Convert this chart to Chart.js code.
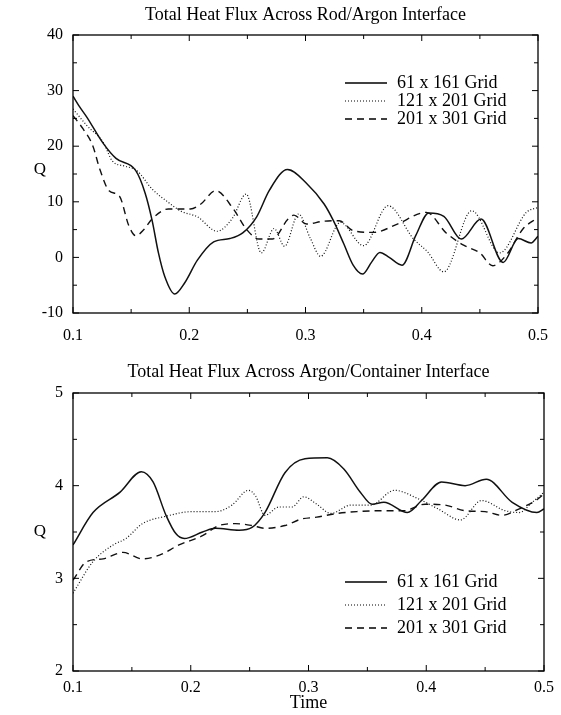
<!DOCTYPE html>
<html>
<head>
<meta charset="utf-8">
<script src="https://cdn.jsdelivr.net/npm/chart.js@4.4.1/dist/chart.umd.min.js"></script>
<style>
  html, body { margin: 0; padding: 0; background: #fff; }
  #wrap { position: relative; width: 561px; height: 715px; }
  canvas { position: absolute; left: 0; }
  #rod { top: 0; }
  #box { top: 345px; }
</style>
</head>
<body>
<div id="wrap">
  <canvas id="rod" width="561" height="345"></canvas>
  <canvas id="box" width="561" height="370"></canvas>
</div>
<script>
// ---- Data ----
const seriesNames = ['61 x 161 Grid', '121 x 201 Grid', '201 x 301 Grid'];
const titles = ['Total Heat Flux Across Rod/Argon Interface', 'Total Heat Flux Across Argon/Container Interface'];

// top panel: rod / argon
const rodT61 = [0.1, 0.105, 0.112, 0.126, 0.137, 0.154, 0.162, 0.168, 0.1735, 0.179, 0.1875, 0.196, 0.207, 0.221, 0.235, 0.246, 0.258, 0.269, 0.2845, 0.301, 0.316, 0.324, 0.333, 0.341, 0.349, 0.357, 0.364, 0.372, 0.383, 0.395, 0.406, 0.419, 0.434, 0.451, 0.47, 0.483, 0.494, 0.5];
const rodQ61 = [29, 27.3, 25.2, 20.5, 17.8, 15.6, 11.6, 6.7, 0.8, -3.5, -6.6, -4.6, -0.5, 2.8, 3.4, 4.4, 7.3, 12.1, 15.8, 13.3, 9.6, 6.6, 2.4, -1.4, -3.0, -0.8, 0.9, 0.0, -1.4, 4.0, 8.0, 7.4, 3.3, 6.9, -0.9, 3.4, 2.6, 3.8];

const rodT121 = [0.1, 0.112, 0.126, 0.134, 0.145, 0.155, 0.168, 0.182, 0.193, 0.207, 0.224, 0.237, 0.249, 0.262, 0.273, 0.282, 0.294, 0.304, 0.313, 0.33, 0.35, 0.371, 0.393, 0.405, 0.419, 0.443, 0.467, 0.49, 0.5];
const rodQ121 = [26.7, 23.7, 20.7, 17.3, 16.4, 15.6, 12.3, 9.9, 8.3, 7.3, 4.7, 7.0, 11.4, 0.8, 5.2, 2.0, 7.8, 3.5, 0.2, 6.3, 2.1, 9.3, 3.3, 1.0, -2.6, 8.4, 0.8, 8.1, 9.0];

const rodT201 = [0.1, 0.1087, 0.117, 0.123, 0.131, 0.14, 0.148, 0.154, 0.161, 0.168, 0.182, 0.201, 0.21, 0.2227, 0.238, 0.249, 0.26, 0.2715, 0.285, 0.29, 0.301, 0.315, 0.329, 0.341, 0.359, 0.379, 0.404, 0.421, 0.436, 0.45, 0.461, 0.473, 0.487, 0.5];
const rodQ201 = [25.5, 23.1, 20.1, 15.9, 12.0, 11.0, 5.7, 3.9, 5.0, 6.9, 8.7, 8.7, 9.6, 12.0, 8.7, 5.1, 3.3, 3.3, 6.9, 7.6, 6.0, 6.5, 6.6, 4.8, 4.5, 6.0, 8.1, 4.4, 2.2, 0.8, -1.5, 0.5, 5.1, 7.2];

// bottom panel: argon / container
const boxT61 = [0.1, 0.117, 0.14, 0.158, 0.168, 0.179, 0.1875, 0.1945, 0.21, 0.221, 0.241, 0.252, 0.263, 0.28, 0.297, 0.316, 0.33, 0.344, 0.354, 0.364, 0.384, 0.396, 0.413, 0.433, 0.451, 0.473, 0.494, 0.5];
const boxQ61 = [3.36, 3.71, 3.93, 4.15, 4.04, 3.68, 3.48, 3.43, 3.5, 3.54, 3.52, 3.55, 3.71, 4.14, 4.29, 4.3, 4.18, 3.93, 3.8, 3.82, 3.71, 3.84, 4.04, 4.0, 4.07, 3.82, 3.71, 3.75];

const boxT121 = [0.1, 0.117, 0.134, 0.145, 0.159, 0.179, 0.201, 0.221, 0.235, 0.249, 0.255, 0.263, 0.275, 0.286, 0.296, 0.307, 0.319, 0.336, 0.353, 0.373, 0.393, 0.41, 0.429, 0.447, 0.467, 0.479, 0.49, 0.5];
const boxQ121 = [2.84, 3.18, 3.36, 3.43, 3.59, 3.67, 3.72, 3.72, 3.79, 3.95, 3.89, 3.68, 3.77, 3.77, 3.88, 3.8, 3.7, 3.79, 3.79, 3.95, 3.86, 3.75, 3.63, 3.84, 3.73, 3.71, 3.82, 3.93];

const boxT201 = [0.1, 0.1115, 0.1256, 0.1424, 0.159, 0.1734, 0.19, 0.21, 0.224, 0.238, 0.252, 0.263, 0.28, 0.294, 0.307, 0.324, 0.341, 0.364, 0.381, 0.399, 0.416, 0.433, 0.45, 0.464, 0.479, 0.493, 0.5];
const boxQ201 = [2.98, 3.18, 3.21, 3.28, 3.21, 3.25, 3.36, 3.46, 3.57, 3.59, 3.57, 3.54, 3.57, 3.64, 3.66, 3.7, 3.72, 3.73, 3.73, 3.8, 3.79, 3.73, 3.72, 3.68, 3.75, 3.84, 3.91];

// ---- Styles ----
const FONT = "'Liberation Serif', 'Times New Roman', serif";
const lineStyles = [
    { borderDash: [], borderWidth: 1.5 },
    { borderDash: [1, 2], borderWidth: 1.2 },
    { borderDash: [7, 5], borderWidth: 1.4 },
];

const pts = (ts, qs) => ts.map((t, i) => ({ x: t, y: qs[i] }));

function datasets(pairs) {
    return pairs.map(([ts, qs], i) => ({
        label: seriesNames[i],
        data: pts(ts, qs),
        borderColor: '#111',
        pointRadius: 0,
        fill: false,
        cubicInterpolationMode: 'monotone',
        ...lineStyles[i],
    }));
}

// ---- Frame, inward ticks, title, Q label and legend ----
const framePlugin = {
    id: 'frame',
    afterDraw(chart, args, o) {
        const { ctx, chartArea: a, scales: { x, y } } = chart;
        ctx.save();
        ctx.strokeStyle = '#000';
        ctx.setLineDash([]);
        ctx.lineWidth = 1.3;
        ctx.strokeRect(a.left, a.top, a.right - a.left, a.bottom - a.top);

        ctx.lineWidth = 1;
        const mids = vals => vals.slice(1).map((v, i) => (v + vals[i]) / 2);
        const xs = x.ticks.map(t => t.value);
        const ys = y.ticks.map(t => t.value);
        ctx.beginPath();
        const xt = (v, len) => {
            const p = x.getPixelForValue(v);
            ctx.moveTo(p, a.bottom); ctx.lineTo(p, a.bottom - len);
            ctx.moveTo(p, a.top); ctx.lineTo(p, a.top + len);
        };
        const yt = (v, len) => {
            const p = y.getPixelForValue(v);
            ctx.moveTo(a.left, p); ctx.lineTo(a.left + len, p);
            ctx.moveTo(a.right, p); ctx.lineTo(a.right - len, p);
        };
        xs.forEach(v => xt(v, 6)); mids(xs).forEach(v => xt(v, 4));
        ys.forEach(v => yt(v, 6)); mids(ys).forEach(v => yt(v, 4));
        ctx.stroke();

        ctx.fillStyle = '#000';
        ctx.font = '18px ' + FONT;
        ctx.textAlign = 'center';
        ctx.textBaseline = 'middle';
        ctx.fillText(o.title, (a.left + a.right) / 2, o.titleY);
        ctx.font = '17px ' + FONT;
        ctx.fillText('Q', o.qX, o.qY);

        // legend
        ctx.font = '18px ' + FONT;
        ctx.textAlign = 'left';
        chart.data.datasets.forEach((ds, i) => {
            const ly = o.legendY[i];
            ctx.beginPath();
            ctx.lineWidth = ds.borderWidth;
            ctx.setLineDash(ds.borderDash);
            ctx.moveTo(o.legendX, ly); ctx.lineTo(o.legendX + 42, ly);
            ctx.stroke();
            ctx.setLineDash([]);
            ctx.fillText(ds.label, o.legendX + 52, ly);
        });
        ctx.restore();
    },
};

function makeChart(canvas, data, yMin, yMax, yStep, xAxisH, padTop, xPad, timeTitle, frameOpts) {
    return new Chart(canvas, {
        type: 'line',
        data: { datasets: data },
        plugins: [framePlugin],
        options: {
            responsive: false,
            animation: false,
            layout: { padding: { top: padTop, right: 14, bottom: 0, left: 0 } },
            plugins: {
                legend: { display: false },
                tooltip: { enabled: false },
                frame: frameOpts,
            },
            scales: {
                x: {
                    type: 'linear', min: 0.1, max: 0.5,
                    ticks: { stepSize: 0.1, padding: xPad, color: '#000', maxRotation: 0,
                        font: { family: FONT, size: 16 }, callback: v => v.toFixed(1) },
                    grid: { display: false, drawTicks: false },
                    border: { display: false },
                    title: { display: timeTitle, text: 'Time', color: '#000',
                        font: { family: FONT, size: 18 }, padding: { top: 0, bottom: 1 } },
                    afterFit: s => { s.height = xAxisH; },
                },
                y: {
                    min: yMin, max: yMax,
                    ticks: { stepSize: yStep, padding: 10, color: '#000',
                        font: { family: FONT, size: 16 } },
                    grid: { display: false, drawTicks: false },
                    border: { display: false },
                    afterFit: s => { s.width = 73; },
                },
            },
        },
    });
}

makeChart(document.getElementById('rod'),
    datasets([[rodT61, rodQ61], [rodT121, rodQ121], [rodT201, rodQ201]]),
    -10, 40, 10, 32, 35, 13, false,
    { title: titles[0], titleY: 15, qX: 40, qY: 170, legendX: 345, legendY: [83, 101, 119] });

makeChart(document.getElementById('box'),
    datasets([[boxT61, boxQ61], [boxT121, boxQ121], [boxT201, boxQ201]]),
    2, 5, 1, 44, 48, 7, true,
    { title: titles[1], titleY: 27, qX: 40, qY: 187, legendX: 345, legendY: [237, 260, 283] });
</script>
</body>
</html>
